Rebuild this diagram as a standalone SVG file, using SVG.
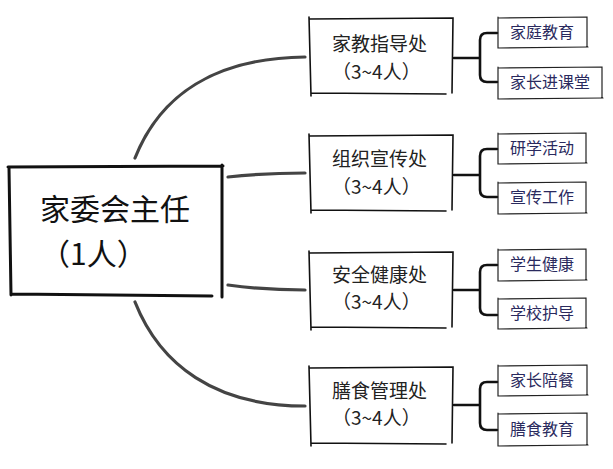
<svg xmlns="http://www.w3.org/2000/svg" width="613" height="469" viewBox="0 0 613 469">
<style>
.main{fill:none;stroke:#111;stroke-width:3;stroke-linecap:round}
.sub{fill:none;stroke:#111;stroke-width:1.6;stroke-linecap:round}
.leaf{fill:none;stroke:#222;stroke-width:1.2;stroke-linecap:round}
.leafsh{fill:none;stroke:#999;stroke-width:1}
.con{fill:none;stroke:#444;stroke-width:3.2;stroke-linecap:round}
.br{fill:none;stroke:#111;stroke-width:2.6;stroke-linecap:round;stroke-linejoin:round}
text{font-family:"Noto Sans CJK SC","Noto Sans",sans-serif}
.t1{font-size:30px;fill:#111}
.t2{font-size:19px;fill:#222}
.t3{font-size:16px;fill:#2a2a5e}
</style>
<rect width="613" height="469" fill="#fff"/>
<g id="connectors">
<path class="con" d="M135,158 C160,95 215,58 305,57"/>
<path class="con" d="M228,177 Q265,173 305,173"/>
<path class="con" d="M228,285 Q265,290 305,290"/>
<path class="con" d="M135,302 C160,365 215,406 305,406"/>
<path class="br" d="M454,58 H480 M497,33 H487 Q480,33 480,40 V75 Q480,82 487,82 H497"/>
<path class="br" d="M454,175 H480 M497,149 H487 Q480,149 480,156 V190 Q480,197 487,197 H497"/>
<path class="br" d="M454,290 H480 M497,265 H487 Q480,265 480,272 V308 Q480,315 487,315 H497"/>
<path class="br" d="M454,405 H480 M497,382 H487 Q480,382 480,389 V423 Q480,430 487,430 H497"/>
</g>
<g id="root">
<path class="main" d="M8,167 L223,166 M222,165 L222,297 M12,294 L212,296 M9,168 L11,295"/>
<text class="t1" x="40" y="220">家委会主任</text>
<text class="t1" x="40" y="265">（1人）</text>
</g>
<g id="n1">
<path class="sub" d="M309,19 L453,18 L452,93 M311,93 L446,94 M309,17 L311,96"/>
<text class="t2" x="332" y="51">家教指导处</text>
<text class="t2" x="332" y="79">（3~4人）</text>
</g>
<g id="n1a"><path class="leaf" d="M498,18 L587,17 L587,47 M498,17 L498,48 L588,47"/><text class="t3" x="510" y="38">家庭教育</text></g>
<g id="n1b"><path class="leaf" d="M498,68 L602,67 L602,98 M498,67 L498,99 L603,98"/><text class="t3" x="510" y="88">家长进课堂</text></g>
<g id="n2">
<path class="sub" d="M309,136 L453,135 L452,210 M311,210 L446,211 M309,134 L311,213"/>
<text class="t2" x="332" y="166">组织宣传处</text>
<text class="t2" x="332" y="194">（3~4人）</text>
</g>
<g id="n2a"><path class="leaf" d="M498,134 L586,133 L586,163 M498,133 L498,164 L587,163"/><text class="t3" x="510" y="154">研学活动</text></g>
<g id="n2b"><path class="leaf" d="M498,183 L586,182 L586,213 M498,182 L498,214 L587,213"/><text class="t3" x="510" y="203">宣传工作</text></g>
<g id="n3">
<path class="sub" d="M309,253 L453,252 L452,327 M311,327 L446,328 M309,251 L311,330"/>
<text class="t2" x="332" y="282">安全健康处</text>
<text class="t2" x="332" y="309">（3~4人）</text>
</g>
<g id="n3a"><path class="leaf" d="M498,250 L586,249 L586,280 M498,249 L498,281 L587,280"/><text class="t3" x="510" y="270">学生健康</text></g>
<g id="n3b"><path class="leaf" d="M498,299 L586,298 L586,328 M498,298 L498,329 L587,328"/><text class="t3" x="510" y="319">学校护导</text></g>
<g id="n4">
<path class="sub" d="M309,368 L453,367 L452,443 M311,443 L446,444 M309,366 L311,446"/>
<text class="t2" x="332" y="398">膳食管理处</text>
<text class="t2" x="332" y="425">（3~4人）</text>
</g>
<g id="n4a"><path class="leaf" d="M498,366 L587,365 L587,395 M498,365 L498,396 L588,395"/><text class="t3" x="510" y="386">家长陪餐</text></g>
<g id="n4b"><path class="leaf" d="M498,414 L587,413 L587,445 M498,413 L498,446 L588,445"/><text class="t3" x="510" y="435">膳食教育</text></g>
</svg>
